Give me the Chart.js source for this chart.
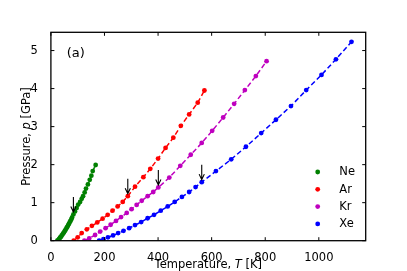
<!DOCTYPE html>
<html>
<head>
<meta charset="utf-8">
<script src="https://cdn.jsdelivr.net/npm/chart.js@4.4.1/dist/chart.umd.min.js"></script>
<style>
  html, body { margin: 0; padding: 0; background: #fff; }
  #wrap { width: 407px; height: 271px; }
</style>
</head>
<body>
<div id="wrap"><canvas id="chartPressure" width="407" height="271"></canvas></div>
<script>
const gasLabels = ['Ne', 'Ar', 'Kr', 'Xe']
const gasColors = ['#008000', '#ff0000', '#bf00bf', '#0000ff']

// temperature [K] / pressure [GPa] per gas
const neT = [24, 28, 31, 34, 37, 40, 43, 46, 49, 52, 55, 58, 61, 64, 67, 70, 73, 76, 79, 84, 90, 96, 102, 109, 115, 120, 126, 131, 138, 145, 151, 156, 167]
const neP = [0.00, 0.02, 0.05, 0.08, 0.10, 0.13, 0.16, 0.19, 0.22, 0.26, 0.29, 0.33, 0.36, 0.40, 0.44, 0.48, 0.52, 0.56, 0.61, 0.69, 0.77, 0.86, 0.95, 1.02, 1.10, 1.17, 1.27, 1.37, 1.48, 1.60, 1.71, 1.83, 1.99]

const arT = [85, 100, 115, 134, 153, 173, 193, 212, 230, 249, 268, 287, 314, 345, 371, 400, 428, 457, 485, 516, 548, 573]
const arP = [0.00, 0.09, 0.20, 0.30, 0.39, 0.48, 0.58, 0.68, 0.79, 0.90, 1.02, 1.17, 1.42, 1.67, 1.89, 2.16, 2.44, 2.71, 3.02, 3.32, 3.63, 3.95]

const krT = [125, 143, 165, 184, 204, 223, 243, 262, 283, 301, 320, 339, 361, 382, 401, 442, 483, 522, 563, 602, 643, 684, 724, 765, 805]
const krP = [0.00, 0.06, 0.15, 0.24, 0.33, 0.42, 0.52, 0.62, 0.73, 0.83, 0.94, 1.05, 1.17, 1.28, 1.40, 1.66, 1.97, 2.26, 2.57, 2.89, 3.24, 3.60, 3.96, 4.33, 4.72]

const xeT = [180, 196, 213, 232, 251, 271, 292, 314, 337, 361, 385, 410, 436, 462, 489, 516, 540, 563, 616, 673, 728, 785, 840, 896, 953, 1010, 1064, 1122]
const xeP = [0.00, 0.04, 0.09, 0.14, 0.20, 0.26, 0.33, 0.41, 0.49, 0.59, 0.68, 0.79, 0.90, 1.02, 1.15, 1.28, 1.41, 1.54, 1.83, 2.14, 2.47, 2.83, 3.18, 3.54, 3.96, 4.36, 4.77, 5.23]

// arrows mark one point on each curve
const arrowT = [84, 287, 401, 563]
const arrowP = [0.69, 1.17, 1.40, 1.54]

const xTicks = [0, 200, 400, 600, 800, 1000]
const yTicks = [0, 1, 2, 3, 4, 5]

const FONT = 'DejaVu Sans'

function toPoints (ts, ps) {
  return ts.map((t, i) => ({ x: t, y: ps[i] }))
}

const series = [[neT, neP], [arT, arP], [krT, krP], [xeT, xeP]]

function drawMixed (ctx, parts, size) {
  // parts: [text, italic]
  let w = 0
  parts.forEach(p => {
    ctx.font = (p[1] ? 'italic ' : '') + size + 'px ' + FONT
    w += ctx.measureText(p[0]).width
  })
  let cx = -w / 2
  parts.forEach(p => {
    ctx.font = (p[1] ? 'italic ' : '') + size + 'px ' + FONT
    ctx.fillText(p[0], cx, 0)
    cx += ctx.measureText(p[0]).width
  })
}

const decorations = {
  id: 'decorations',
  afterDraw (chart) {
    const { ctx, chartArea: a, scales: { x, y } } = chart
    ctx.save()
    ctx.strokeStyle = '#000'
    ctx.fillStyle = '#000'

    // inward ticks on all four sides
    ctx.lineWidth = 1
    ctx.beginPath()
    xTicks.forEach(v => {
      const px = x.getPixelForValue(v)
      ctx.moveTo(px, a.bottom); ctx.lineTo(px, a.bottom - 3.5)
      ctx.moveTo(px, a.top); ctx.lineTo(px, a.top + 3.5)
    })
    yTicks.forEach(v => {
      const py = y.getPixelForValue(v)
      ctx.moveTo(a.left, py); ctx.lineTo(a.left + 3.5, py)
      ctx.moveTo(a.right, py); ctx.lineTo(a.right - 3.5, py)
    })
    ctx.stroke()

    // frame
    ctx.lineWidth = 1.3
    ctx.strokeRect(a.left, a.top, a.right - a.left, a.bottom - a.top)

    // arrows
    ctx.lineWidth = 1.1
    arrowT.forEach((t, i) => {
      const px = x.getPixelForValue(t)
      const tip = y.getPixelForValue(arrowP[i]) - 2.5
      ctx.beginPath()
      ctx.moveTo(px, tip - 15); ctx.lineTo(px, tip)
      ctx.moveTo(px - 2.6, tip - 5.5); ctx.lineTo(px, tip); ctx.lineTo(px + 2.6, tip - 5.5)
      ctx.stroke()
    })

    // panel label
    ctx.font = '13px ' + FONT
    ctx.textBaseline = 'middle'
    ctx.textAlign = 'left'
    ctx.fillText('(a)', a.left + 15.8, a.top + 21)

    // legend
    ctx.font = '11.5px ' + FONT
    gasLabels.forEach((lab, i) => {
      const ly = a.bottom - 68.7 + i * 17.3
      ctx.fillStyle = gasColors[i]
      ctx.beginPath()
      ctx.arc(a.right - 48, ly, 2.4, 0, Math.PI * 2)
      ctx.fill()
      ctx.fillStyle = '#000'
      ctx.fillText(lab, a.right - 26.4, ly + 0.5)
    })

    // axis titles
    ctx.textAlign = 'left'
    ctx.save()
    ctx.translate((a.left + a.right) / 2, 265.5)
    drawMixed(ctx, [['Temperature, ', false], ['T', true], [' [K]', false]], 11.5)
    ctx.restore()
    ctx.save()
    ctx.translate(27, (a.top + a.bottom) / 2)
    ctx.rotate(-Math.PI / 2)
    drawMixed(ctx, [['Pressure, ', false], ['p', true], [' [GPa]', false]], 11.5)
    ctx.restore()

    ctx.restore()
  }
}

const config = {
  type: 'line',
  data: {
    datasets: series.map((s, i) => ({
      label: gasLabels[i],
      data: toPoints(s[0], s[1]),
      borderColor: gasColors[i],
      backgroundColor: gasColors[i],
      pointBackgroundColor: gasColors[i],
      pointBorderWidth: 0,
      pointRadius: 2.4,
      borderWidth: 1.5,
      borderDash: [5, 2.8],
      tension: 0,
      fill: false,
      order: 4 - i
    }))
  },
  options: {
    responsive: false,
    animation: false,
    layout: { padding: { left: 0, top: 32.3, right: 41.3, bottom: 0 } },
    plugins: {
      legend: { display: false },
      tooltip: { enabled: false }
    },
    scales: {
      x: {
        type: 'linear',
        min: 0,
        max: 1175,
        grid: { display: false },
        border: { display: false },
        ticks: {
          maxRotation: 0,
          autoSkip: false,
          padding: 2,
          color: '#000',
          font: { family: FONT, size: 11.5 },
          callback: (v) => String(v)
        },
        afterBuildTicks: (scale) => { scale.ticks = xTicks.map(v => ({ value: v })) },
        afterFit: (scale) => { scale.height = 30.3 }
      },
      y: {
        type: 'linear',
        min: 0,
        max: 5.48,
        grid: { display: false },
        border: { display: false },
        ticks: {
          autoSkip: false,
          padding: 5,
          color: '#000',
          font: { family: FONT, size: 11.5 },
          callback: (v) => String(v)
        },
        afterBuildTicks: (scale) => { scale.ticks = yTicks.map(v => ({ value: v })) },
        afterFit: (scale) => { scale.width = 50.9 }
      }
    }
  },
  plugins: [decorations]
}

const canvas = document.getElementById('chartPressure').getContext('2d')
window.pressureChart = new Chart(canvas, config)
</script>
</body>
</html>
